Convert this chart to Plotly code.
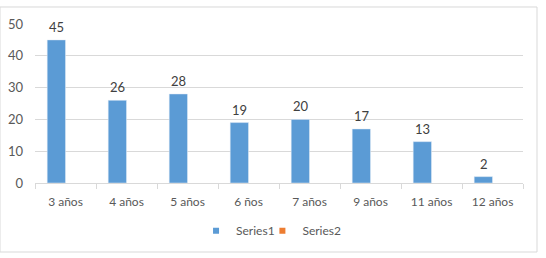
import plotly.graph_objects as go

categories = ["3 años", "4 años", "5 años", "6 ños", "7 años", "9 años", "11 años", "12 años"]
series1 = [45, 26, 28, 19, 20, 17, 13, 2]
series2 = [None, None, None, None, None, None, None, None]
y_ticks = [0, 10, 20, 30, 40, 50]

FONT = "Lato"
TXT = "#595959"
C1, C2 = "#5B9BD5", "#ED7D31"

fig = go.Figure()
fig.add_trace(go.Bar(name="Series1", x=categories, y=series1, marker_color=C1, showlegend=False))
fig.add_trace(go.Bar(name="Series2", x=categories, y=series2, marker_color=C2, showlegend=False))
# legend proxies with small square markers
fig.add_trace(go.Scatter(name="Series1", x=[categories[0]], y=[None], mode="markers",
                         marker=dict(symbol="square", size=6, color=C1), legend="legend"))
fig.add_trace(go.Scatter(name="Series2", x=[categories[0]], y=[None], mode="markers",
                         marker=dict(symbol="square", size=6, color=C2), legend="legend2"))

# data labels above the Series1 bars
for c, v in zip(categories, series1):
    fig.add_annotation(x=c, y=v, text=str(v), showarrow=False, yanchor="bottom",
                       yshift=3, xshift=-9, font=dict(family=FONT, size=13, color="#404040"))

leg = dict(orientation="h", yanchor="middle", y=-0.30, xanchor="left",
           font=dict(family=FONT, size=12, color=TXT), itemwidth=30, bgcolor="rgba(0,0,0,0)")
fig.update_layout(
    width=546, height=258,
    margin=dict(l=35, r=23, t=24, b=75),
    paper_bgcolor="white", plot_bgcolor="white",
    barmode="group", bargap=0.4, bargroupgap=0,
    font=dict(family=FONT, size=12, color=TXT),
    showlegend=True,
    legend=dict(leg, x=0.33),
    legend2=dict(leg, x=0.466),
    shapes=[dict(type="rect", xref="paper", yref="paper", x0=-0.0717, x1=1.0287,
                 y0=-0.434, y1=1.107, line=dict(color="#d9d9d9", width=1))],
)
fig.update_xaxes(range=[-0.5, len(categories) - 0.5], automargin=False, showline=True,
                 linecolor="#d9d9d9", linewidth=1, ticks="outside", tickson="boundaries",
                 ticklen=5, tickcolor="#d9d9d9", ticklabelstandoff=8,
                 tickfont=dict(family=FONT, size=12, color=TXT), showgrid=False)
fig.update_yaxes(range=[0, 50], tickvals=y_ticks, automargin=False, showgrid=True,
                 gridcolor="#d9d9d9", zeroline=False, showline=False, ticks="",
                 ticklabelstandoff=11, tickfont=dict(family=FONT, size=13, color=TXT))

fig.write_html("out.html")
